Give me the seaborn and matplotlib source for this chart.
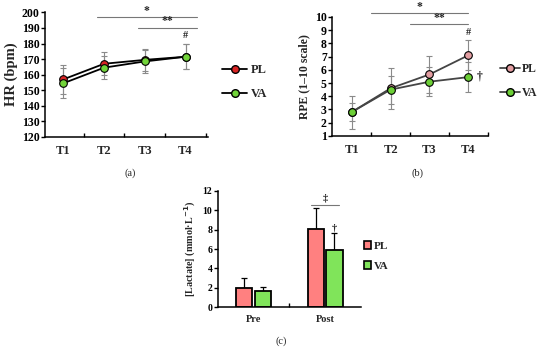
import numpy as np
import pandas as pd
import matplotlib
matplotlib.use('Agg')
import matplotlib.pyplot as plt
import seaborn as sns

# --- data ---
times = ['T1', 'T2', 'T3', 'T4']
groups = ['PL', 'VA']

hr_pl = [157.0, 167.0, 169.5, 171.5]
hr_va = [154.5, 164.5, 168.5, 171.5]
hr_pl_sd = [9.5, 7.5, 7.0, 8.0]
hr_va_sd = [9.5, 7.5, 7.5, 8.0]

rpe_pl = [2.8, 4.6, 5.65, 7.1]
rpe_va = [2.8, 4.5, 5.1, 5.45]
rpe_pl_sd = [1.25, 1.55, 1.4, 1.15]
rpe_va_sd = [0.7, 1.05, 1.1, 1.15]

phases = ['Pre', 'Post']
lac_pl = [1.97, 8.07]
lac_va = [1.65, 5.9]
lac_pl_sd = [1.0, 2.15]
lac_va_sd = [0.45, 1.75]

sns.set_theme(style='white')
plt.rcParams['font.family'] = ['Liberation Serif', 'DejaVu Serif']
plt.rcParams['font.weight'] = 'bold'
plt.rcParams['axes.labelweight'] = 'bold'

fig = plt.figure(figsize=(5.5, 3.53), dpi=100)

def style_axes(ax, ysize=8.5, xsize=9):
    sns.despine(ax=ax)
    for s in ['left', 'bottom']:
        ax.spines[s].set_color('black')
        ax.spines[s].set_linewidth(1.1)
    ax.tick_params(axis='y', direction='out', length=3, width=1, colors='black',
                   labelsize=ysize, left=True, pad=1)
    ax.tick_params(axis='x', which='major', length=0, labelsize=xsize, pad=6)
    ax.tick_params(axis='x', which='minor', direction='in', length=3, width=1,
                   bottom=True, color='black')
    for lab in ax.get_xticklabels() + ax.get_yticklabels():
        lab.set_fontweight('bold')

def line_panel(rect, pl, va, pl_sd, va_sd, c_pl, c_va, lc, xlim, ylim, yticks,
               ylabel, lsize):
    ax = fig.add_axes(rect)
    df = pd.DataFrame({'time': times * 2, 'value': pl + va,
                       'group': ['PL'] * 4 + ['VA'] * 4})
    sns.lineplot(data=df, x='time', y='value', hue='group', palette=[c_pl, c_va],
                 marker='o', markersize=5.5, markeredgecolor='black', markeredgewidth=0.8,
                 linewidth=1.3, ax=ax, zorder=3, legend=False)
    for l, c in zip(ax.lines, [c_pl, c_va]):
        l.set_color(lc)
        l.set_markerfacecolor(c)
        l.set_markeredgecolor('black')
    for vals, sd in [(pl, pl_sd), (va, va_sd)]:
        ax.errorbar(times, vals, yerr=sd, fmt='none', ecolor='#8a8a8a',
                    elinewidth=0.8, capsize=2.5, capthick=0.8, zorder=1)
    ax.set_xlim(*xlim)
    ax.set_ylim(*ylim)
    ax.set_yticks(yticks)
    ax.set_xticks([0.5, 1.5, 2.5, 3.5], minor=True)
    ax.set_xlabel('')
    ax.set_ylabel(ylabel, fontsize=lsize, labelpad=3)
    style_axes(ax)
    return ax

def line_handles(colors, lc):
    return [plt.Line2D([], [], color=lc, lw=1.3, marker='o', markersize=5.5,
                       markerfacecolor=c, markeredgecolor='black') for c in colors]

# (a) heart rate
ca = ['#d92424', '#72d43a']
axa = line_panel([0.082, 0.612, 0.296, 0.353], hr_pl, hr_va, hr_pl_sd, hr_va_sd,
                 ca[0], ca[1], 'black', (-0.45, 3.55), (120, 200),
                 range(120, 201, 10), 'HR (bpm)', 10.5)
axa.plot([0.83, 3.28], [197, 197], color='#777777', lw=0.8, clip_on=False)
axa.text(2.05, 197.3, '*', ha='center', va='bottom', fontsize=8.5)
axa.plot([1.83, 3.28], [190, 190], color='#777777', lw=0.8, clip_on=False)
axa.text(2.55, 190.3, '**', ha='center', va='bottom', fontsize=8.5)
axa.text(3, 182, '#', ha='center', va='bottom', fontsize=7.5)
axa.legend(line_handles(ca, 'black'), groups, loc='center left',
           bbox_to_anchor=(0.384, 0.767), bbox_transform=fig.transFigure,
           frameon=False, handlelength=2.0, labelspacing=0.95, handletextpad=0.3,
           prop={'weight': 'bold', 'size': 9})

# (b) rating of perceived exertion
cb = ['#e39ea2', '#6ccf36']
axb = line_panel([0.604, 0.615, 0.283, 0.337], rpe_pl, rpe_va, rpe_pl_sd, rpe_va_sd,
                 cb[0], cb[1], '#454545', (-0.5, 3.5), (1, 10),
                 range(1, 11), 'RPE (1\u201310 scale)', 8.5)
axb.plot([0.5, 3.0], [10.28, 10.28], color='#777777', lw=0.8, clip_on=False)
axb.text(1.75, 10.33, '*', ha='center', va='bottom', fontsize=8.5)
axb.plot([1.5, 3.0], [9.45, 9.45], color='#777777', lw=0.8, clip_on=False)
axb.text(2.25, 9.5, '**', ha='center', va='bottom', fontsize=8.5)
axb.text(3, 8.45, '#', ha='center', va='bottom', fontsize=7.5)
axb.text(3.3, 5.5, '\u2020', ha='center', va='center', fontsize=8.5)
axb.legend(line_handles(cb, '#454545'), groups, loc='center left',
           bbox_to_anchor=(0.89, 0.77), bbox_transform=fig.transFigure,
           frameon=False, handlelength=1.65, labelspacing=1.0, handletextpad=0.2,
           prop={'weight': 'bold', 'size': 8.5})

# (c) lactate
axc = fig.add_axes([0.396, 0.130, 0.26, 0.329])
dfc = pd.DataFrame({'phase': phases * 2, 'value': lac_pl + lac_va,
                    'group': ['PL'] * 2 + ['VA'] * 2})
c_bar = ['#ff8080', '#80e45a']
sns.barplot(data=dfc, x='phase', y='value', hue='group', palette=c_bar,
            width=0.52, gap=0.12, edgecolor='black', linewidth=1.3,
            errorbar=None, ax=axc, legend=False, saturation=1)
for patch, sd in zip(axc.patches, lac_pl_sd + lac_va_sd):
    xc = patch.get_x() + patch.get_width() / 2
    axc.errorbar([xc], [patch.get_height()], yerr=[[0], [sd]], fmt='none',
                 ecolor='black', elinewidth=0.9, capsize=2.2, capthick=0.9, zorder=0)
axc.set_xlim(-0.5, 1.5)
axc.set_ylim(0, 12)
axc.set_yticks(range(0, 13, 2))
axc.set_xticks([0.5], minor=True)
axc.set_xlabel('')
axc.set_ylabel('[Lactate] (mmol\u00b7L$^{\\mathbf{-1}}$)', fontsize=7.3, labelpad=3)
style_axes(axc, ysize=7, xsize=7.5)
axc.plot([0.8, 1.2], [10.56, 10.56], color='#777777', lw=0.8)
axc.text(1.0, 10.8, '\u2021', ha='center', va='bottom', fontsize=7.5)
axc.text(1.13, 7.7, '\u2020', ha='center', va='bottom', fontsize=7.5)
hc = [plt.Rectangle((0, 0), 1, 1, facecolor=c, edgecolor='black', lw=1.2) for c in c_bar]
axc.legend(hc, groups, loc='center left', bbox_to_anchor=(0.643, 0.275),
           bbox_transform=fig.transFigure, frameon=False,
           handlelength=0.7, handleheight=0.7, labelspacing=0.9, handletextpad=0.2,
           prop={'weight': 'bold', 'size': 8})

fig.text(0.236, 0.51, '(a)', ha='center', va='center', fontsize=7.5, fontweight='normal')
fig.text(0.760, 0.51, '(b)', ha='center', va='center', fontsize=7.5, fontweight='normal')
fig.text(0.511, 0.034, '(c)', ha='center', va='center', fontsize=7.5, fontweight='normal')

fig.savefig('out.png', dpi=100)
